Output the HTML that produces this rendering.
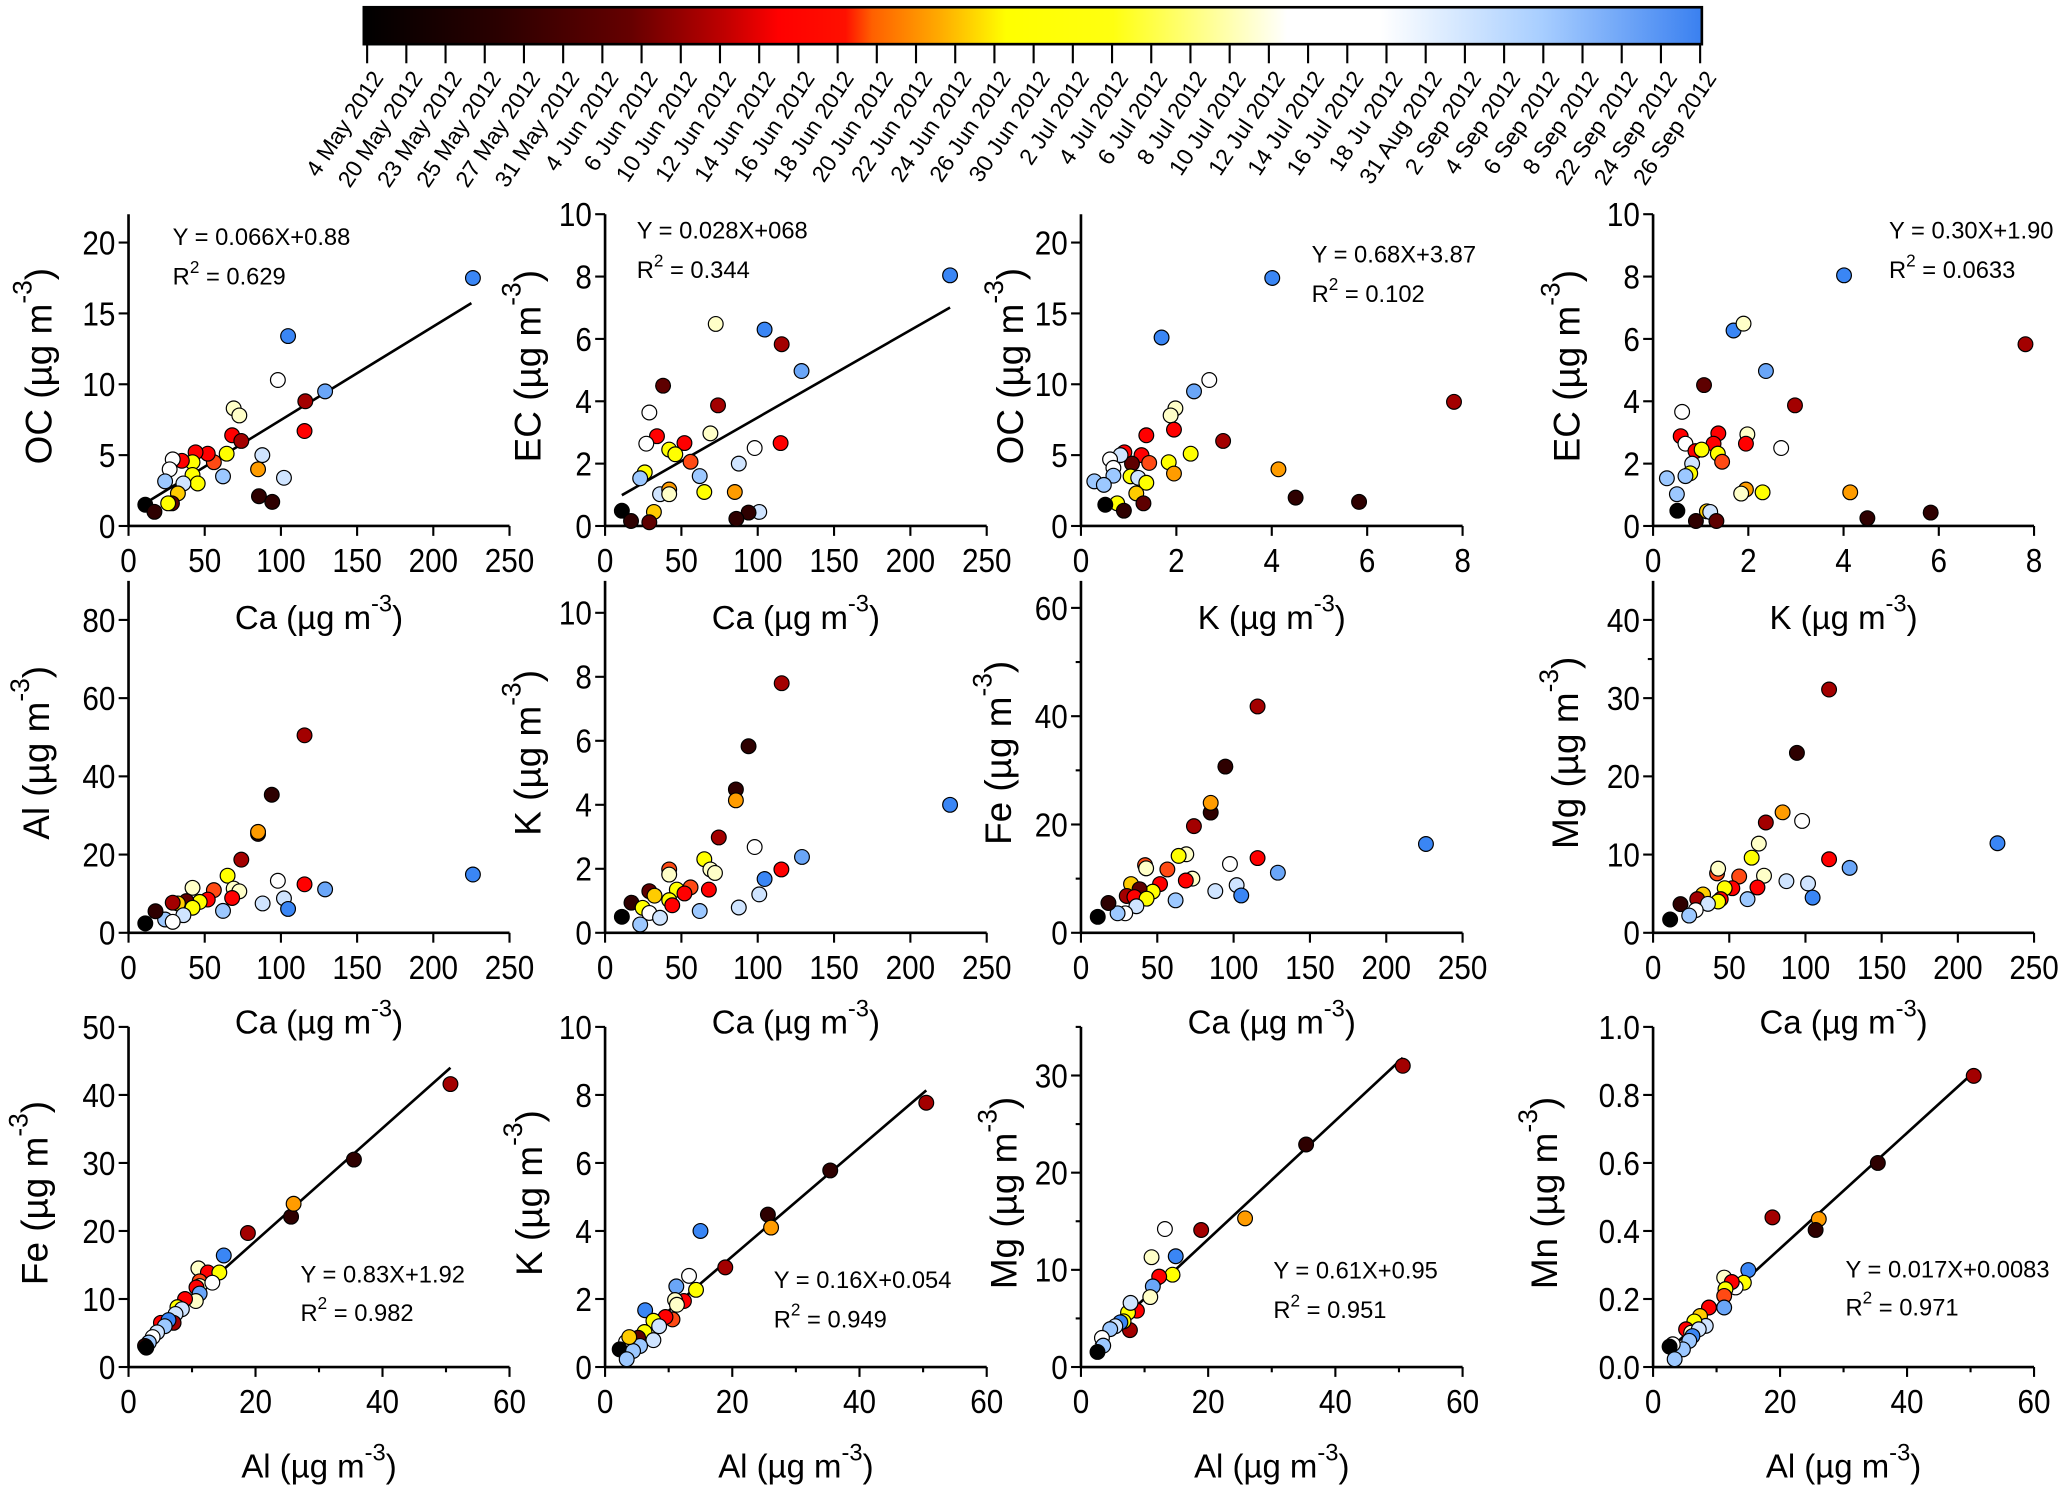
<!DOCTYPE html>
<html><head><meta charset="utf-8"><title>Scatter matrix</title>
<style>
html,body{margin:0;padding:0;background:#fff;}
svg{display:block;}
text{font-family:"Liberation Sans",Arial,sans-serif;fill:#000;}
</style></head>
<body>
<svg id="fig" xmlns="http://www.w3.org/2000/svg" width="2067" height="1485" viewBox="0 0 1568 1126.5" preserveAspectRatio="none">
<defs>
<linearGradient id="cbgrad" x1="0" x2="1" y1="0" y2="0">
<stop offset="0" stop-color="#000000"/>
<stop offset="0.1" stop-color="#2a0000"/>
<stop offset="0.2" stop-color="#660000"/>
<stop offset="0.27" stop-color="#c00000"/>
<stop offset="0.31" stop-color="#ff0000"/>
<stop offset="0.36" stop-color="#ff1000"/>
<stop offset="0.38" stop-color="#ff6000"/>
<stop offset="0.43" stop-color="#ffaa00"/>
<stop offset="0.48" stop-color="#ffff00"/>
<stop offset="0.56" stop-color="#ffff10"/>
<stop offset="0.69" stop-color="#ffffff"/>
<stop offset="0.76" stop-color="#ffffff"/>
<stop offset="0.8" stop-color="#e2efff"/>
<stop offset="0.88" stop-color="#a8ceff"/>
<stop offset="1" stop-color="#3a80f0"/>
</linearGradient>
</defs>
<rect x="276" y="5.5" width="1015" height="28" fill="url(#cbgrad)" stroke="#000" stroke-width="2"/>
<g id="cbticks"></g>
<g id="panels"></g>
</svg>
<script>
// ---- colorbar dates ----
const dateLabels = ["4 May 2012","20 May 2012","23 May 2012","25 May 2012","27 May 2012","31 May 2012","4 Jun 2012","6 Jun 2012","10 Jun 2012","12 Jun 2012","14 Jun 2012","16 Jun 2012","18 Jun 2012","20 Jun 2012","22 Jun 2012","24 Jun 2012","26 Jun 2012","30 Jun 2012","2 Jul 2012","4 Jul 2012","6 Jul 2012","8 Jul 2012","10 Jul 2012","12 Jul 2012","14 Jul 2012","16 Jul 2012","18 Ju 2012","31 Aug 2012","2 Sep 2012","4 Sep 2012","6 Sep 2012","8 Sep 2012","22 Sep 2012","24 Sep 2012","26 Sep 2012"];

// ---- colour code legend ----
const colorCodes = {k:"#000000",d:"#2e0000",m:"#5e0000",R:"#a30000",r:"#ff0000",o:"#ff4a14",O:"#ff9c00",g:"#ffcc00",y:"#ffff00",l:"#ffffc8",w:"#ffffff",b:"#cfe4ff",s:"#9cc8ff",M:"#6aa6f8",B:"#3a86f5"};

// ---- panel data ----
const p1x=[226,104.7,129,98,116,115.5,69,72.7,68,74,64.4,87.8,56,52,44,42,35,29,27,42,45.4,36,24,62,102,85,32.4,28.5,26,85.6,94.3,11,17];
const p1y=[17.5,13.4,9.5,10.3,8.8,6.7,8.3,7.8,6.4,6.0,5.1,5.0,4.5,5.1,5.2,4.5,4.6,4.7,4.0,3.6,3.0,3.0,3.15,3.5,3.4,4.0,2.3,1.6,1.6,2.1,1.7,1.5,1.0];
const p1c=["B","B","M","w","R","r","l","l","r","R","y","b","o","r","r","y","r","w","w","y","y","b","s","s","b","O","g","m","y","d","d","k","d"];

const p2x=[226,104.5,115.7,128.7,72.5,38,74,29,69,34,27,52,115,98,42,46,56,87.6,26,23,62,36,42,42,65,85,32,101,11,94,86,17,29];
const p2y=[8.04,6.3,5.83,4.97,6.48,4.5,3.87,3.64,2.97,2.88,2.64,2.66,2.66,2.5,2.45,2.3,2.06,2.0,1.72,1.53,1.6,1.02,1.17,1.02,1.09,1.09,0.45,0.45,0.49,0.43,0.23,0.16,0.12];
const p2c=["B","B","R","M","l","m","R","w","l","r","w","r","r","w","y","y","o","b","y","s","s","b","O","l","y","O","g","b","k","d","d","d","m"];

const p3x=[4.01,1.69,2.69,2.37,1.98,1.88,7.82,1.95,1.37,2.98,2.3,1.84,1.95,1.27,0.91,1.43,1.07,4.14,0.83,0.61,0.68,0.68,1.04,1.2,1.37,0.28,0.48,1.16,0.76,1.31,0.51,0.9,4.5,5.83];
const p3y=[17.5,13.3,10.3,9.5,8.3,7.8,8.76,6.8,6.4,6.0,5.1,4.5,3.7,5.0,5.2,4.45,4.4,4.0,5.0,4.7,4.1,3.55,3.5,3.4,3.05,3.15,2.9,2.3,1.6,1.6,1.5,1.08,2.0,1.7];
const p3c=["B","B","w","M","l","l","R","r","r","R","y","y","O","r","r","o","m","O","b","w","w","s","y","b","y","s","s","g","y","m","k","d","d","d"];

const p4x=[4.01,1.69,1.9,7.82,2.37,1.07,2.98,0.61,1.37,0.58,1.98,1.27,1.95,0.68,2.69,0.89,1.02,1.36,1.45,0.82,0.78,0.68,0.29,0.5,1.95,1.85,2.3,4.14,1.13,1.2,0.51,5.83,4.5,0.9,1.33];
const p4y=[8.04,6.27,6.49,5.83,4.97,4.52,3.87,3.66,2.97,2.88,2.94,2.64,2.64,2.64,2.5,2.4,2.45,2.32,2.06,2.0,1.69,1.6,1.53,1.02,1.17,1.04,1.08,1.08,0.47,0.45,0.49,0.43,0.25,0.16,0.16];
const p4c=["B","B","l","R","M","m","R","w","r","r","l","r","r","w","w","r","y","y","o","b","y","s","s","s","O","l","y","O","g","b","k","d","d","d","m"];

const p5x=[226,115.5,94,85,85,74,65,42,56,69,72.7,98,115.5,129,102,88,104.7,68,52,46.7,38,32.4,29,42,62,36,24,29,17.7,11];
const p5y=[14.9,50.5,35.3,25.3,25.8,18.7,14.6,11.5,10.9,11.3,10.6,13.3,12.4,11.1,8.8,7.5,6.1,8.9,8.5,7.9,8.1,7.5,7.7,6.4,5.6,4.5,3.4,2.8,5.5,2.4];
const p5c=["B","R","d","d","O","R","y","l","o","l","l","w","r","M","b","b","B","r","r","y","m","g","R","y","s","b","s","w","d","k"];

const p6x=[226,115.7,94,85.7,85.7,74.5,98,129,65,115.5,42,42,69,72,104.5,56,68,47,29,52,32.4,42,44,101,17.3,87.6,62,24.6,29,36,11,23];
const p6y=[4.0,7.8,5.83,4.48,4.14,2.98,2.68,2.37,2.3,1.98,1.98,1.82,1.98,1.87,1.68,1.42,1.35,1.35,1.3,1.23,1.16,1.02,0.86,1.2,0.94,0.79,0.68,0.78,0.62,0.47,0.5,0.26];
const p6c=["B","R","d","d","O","R","w","M","y","r","o","l","l","l","B","o","r","y","m","r","g","y","r","b","d","b","s","y","w","b","k","s"];

const p7x=[226,115.7,94.6,85,85,74,69,64,42,42.7,56.6,97.6,115.7,129,73,68.7,51.8,32.8,47,38.4,102,88,105,30,35,43,62,36.3,29,24,18,11];
const p7y=[16.4,41.8,30.7,22.2,24.0,19.7,14.5,14.2,12.5,11.9,11.7,12.7,13.8,11.1,10.0,9.65,9.0,9.0,7.6,8.05,8.8,7.7,6.9,6.8,6.6,6.3,6.0,4.9,3.6,3.6,5.5,2.95];
const p7c=["B","R","d","d","O","R","l","y","o","l","o","w","r","M","l","r","r","g","y","m","b","b","B","R","r","y","s","b","w","s","d","k"];

const p8x=[226,115.5,94.4,85,74,97.8,69.4,64.7,115.5,129,42,42.7,56.5,72.8,87.5,101.7,68.5,52,47,32.8,29,44.4,42.7,62,104.7,36,18,28,23.7,11.2];
const p8y=[11.45,31.1,23.0,15.4,14.1,14.3,11.4,9.6,9.4,8.3,7.6,8.2,7.2,7.3,6.6,6.3,5.8,5.7,5.7,4.9,4.3,4.3,4.0,4.3,4.5,3.7,3.66,2.9,2.2,1.7];
const p8c=["B","R","d","O","R","w","l","y","r","M","o","l","o","l","b","b","r","r","y","g","R","r","y","s","B","b","d","w","s","k"];

const p9x=[50.7,35.5,25.6,26,18.8,15,11,12.5,14.3,11.2,11.2,13.2,10.7,11.2,10.6,8.9,7.7,8.4,7.4,7.1,5.1,6.3,5.7,4.5,3.8,3.2,2.6,2.8];
const p9y=[41.6,30.5,22.1,24.0,19.7,16.4,14.5,13.9,13.9,12.6,11.9,12.4,11.7,10.8,9.7,10.0,8.8,8.5,7.8,6.5,6.5,6.9,6.0,5.1,4.4,3.6,3.1,2.85];
const p9c=["R","d","d","O","R","B","l","r","y","o","l","w","r","M","l","r","y","b","b","R","r","B","s","b","w","s","d","k"];

const p10x=[50.5,35.4,25.6,26.1,15,18.9,13.2,11.2,14.3,12.4,11,11.3,6.3,10.6,9.5,7.6,8.5,6.2,5.2,7.6,5.5,3.3,2.3,4.4,3.4,3.8];
const p10y=[7.77,5.78,4.48,4.1,4.0,2.93,2.68,2.37,2.27,1.94,1.97,1.83,1.67,1.4,1.47,1.36,1.2,1.03,0.86,0.79,0.62,0.74,0.52,0.47,0.23,0.88];
const p10c=["R","d","d","O","B","R","w","M","y","r","l","l","B","o","r","y","b","y","m","b","s","w","k","s","s","g"];

const p11x=[50.6,35.4,25.8,18.9,13.2,14.9,11.1,14.4,12.3,11.3,10.9,8.8,7.4,7.8,7.7,6.7,6.2,5.4,4.6,3.3,3.5,2.6];
const p11y=[31.0,22.9,15.3,14.1,14.2,11.4,11.3,9.5,9.3,8.3,7.2,5.8,5.6,6.6,3.8,4.7,4.6,4.2,3.9,3.0,2.2,1.55];
const p11c=["R","d","O","R","w","B","l","y","r","M","l","r","y","b","R","y","B","b","s","w","s","k"];

const p12x=[50.5,35.4,18.8,26.1,25.6,15,14.3,11.2,13,12.4,11.4,11.2,11.2,8.8,7.4,8.3,6.5,5.2,6,7.2,6.2,5.7,4.7,3.1,2.6,3.4];
const p12y=[0.856,0.6,0.44,0.435,0.403,0.285,0.248,0.263,0.234,0.25,0.229,0.209,0.175,0.175,0.15,0.121,0.134,0.111,0.101,0.111,0.091,0.077,0.052,0.067,0.06,0.023];
const p12c=["R","d","R","O","d","B","y","l","w","r","y","o","M","r","g","b","y","r","l","b","B","s","s","w","k","s"];

// regression coefficients [slope, intercept, xStart, xEnd]
const fitP1=[0.066,0.88,14,225];
const fitP2=[0.028,0.68,11,226];
const fitP9=[0.83,1.92,2.1,50.7];
const fitP10=[0.16,0.054,2.3,50.5];
const fitP11=[0.61,0.95,2.3,50.6];
const fitP12=[0.017,0.0083,2.3,50.5];

const NS="http://www.w3.org/2000/svg";
const svg=document.getElementById("fig");
function mk(tag,attrs,parent){const e=document.createElementNS(NS,tag);for(const k in attrs)e.setAttribute(k,attrs[k]);(parent||svg).appendChild(e);return e;}

// colorbar ticks + labels
const cbG=document.getElementById("cbticks");
const cbX0=278.5, cbX1=1289.7;
dateLabels.forEach((lab,i)=>{
  const x=cbX0+(cbX1-cbX0)*i/(dateLabels.length-1);
  const t=mk("line",{x1:x,y1:33.5,x2:x,y2:48,stroke:"#000","stroke-width":1.6},cbG);
  
  
  const tx=mk("text",{x:0,y:0,"font-size":17.5,"text-anchor":"end",transform:`translate(${x+13},${59}) rotate(-56.5)`},cbG);
  
  
  tx.textContent=lab;
});

const cols=[[97.5,386.5],[459,748.5],[820,1109.5],[1254,1543]];
const rows=[[399,162.5],[707.6,440.6],[1037,779]];

const panels=[
 {name:"oc-vs-ca",r:0,c:0,xs:p1x,ys:p1y,cs:p1c,xmax:250,xt:[0,50,100,150,200,250],xm:[],ymax:22,yt:[0,5,10,15,20],ym:[],yl:"OC",xl:"Ca",fit:fitP1,eq:["Y = 0.066X+0.88","0.629"],ex:131,ey:186,ey2:216,ytx:29},
 {name:"ec-vs-ca",r:0,c:1,xs:p2x,ys:p2y,cs:p2c,xmax:250,xt:[0,50,100,150,200,250],xm:[],ymax:10,yt:[0,2,4,6,8,10],ym:[],yl:"EC",xl:"Ca",fit:fitP2,eq:["Y = 0.028X+068","0.344"],ex:483,ey:181,ey2:211,ytx:400},
 {name:"oc-vs-k",r:0,c:2,xs:p3x,ys:p3y,cs:p3c,xmax:8,xt:[0,2,4,6,8],xm:[],ymax:22,yt:[0,5,10,15,20],ym:[],yl:"OC",xl:"K",fit:null,eq:["Y = 0.68X+3.87","0.102"],ex:995,ey:199,ey2:229,ytx:766},
 {name:"ec-vs-k",r:0,c:3,xs:p4x,ys:p4y,cs:p4c,xmax:8,xt:[0,2,4,6,8],xm:[],ymax:10,yt:[0,2,4,6,8,10],ym:[],yl:"EC",xl:"K",fit:null,eq:["Y = 0.30X+1.90","0.0633"],ex:1433,ey:181,ey2:211,ytx:1188},
 {name:"al-vs-ca",r:1,c:0,xs:p5x,ys:p5y,cs:p5c,xmax:250,xt:[0,50,100,150,200,250],xm:[],ymax:90,yt:[0,20,40,60,80],ym:[],yl:"Al",xl:"Ca",fit:null,eq:null,ytx:27},
 {name:"k-vs-ca",r:1,c:1,xs:p6x,ys:p6y,cs:p6c,xmax:250,xt:[0,50,100,150,200,250],xm:[],ymax:11,yt:[0,2,4,6,8,10],ym:[],yl:"K",xl:"Ca",fit:null,eq:null,ytx:400},
 {name:"fe-vs-ca",r:1,c:2,xs:p7x,ys:p7y,cs:p7c,xmax:250,xt:[0,50,100,150,200,250],xm:[],ymax:65,yt:[0,20,40,60],ym:[10,30,50],yl:"Fe",xl:"Ca",fit:null,eq:null,ytx:757},
 {name:"mg-vs-ca",r:1,c:3,xs:p8x,ys:p8y,cs:p8c,xmax:250,xt:[0,50,100,150,200,250],xm:[],ymax:45,yt:[0,10,20,30,40],ym:[35],yl:"Mg",xl:"Ca",fit:null,eq:null,ytx:1187},
 {name:"fe-vs-al",r:2,c:0,xs:p9x,ys:p9y,cs:p9c,xmax:60,xt:[0,20,40,60],xm:[10,30,50],ymax:50,yt:[0,10,20,30,40,50],ym:[],yl:"Fe",xl:"Al",fit:fitP9,eq:["Y = 0.83X+1.92","0.982"],ex:228,ey:973,ey2:1002,ytx:26},
 {name:"k-vs-al",r:2,c:1,xs:p10x,ys:p10y,cs:p10c,xmax:60,xt:[0,20,40,60],xm:[10,30,50],ymax:10,yt:[0,2,4,6,8,10],ym:[],yl:"K",xl:"Al",fit:fitP10,eq:["Y = 0.16X+0.054","0.949"],ex:587,ey:977,ey2:1007,ytx:401},
 {name:"mg-vs-al",r:2,c:2,xs:p11x,ys:p11y,cs:p11c,xmax:60,xt:[0,20,40,60],xm:[10,30,50],ymax:35,yt:[0,10,20,30],ym:[5,15,25,35],yl:"Mg",xl:"Al",fit:fitP11,eq:["Y = 0.61X+0.95","0.951"],ex:966,ey:970,ey2:1000,ytx:761},
 {name:"mn-vs-al",r:2,c:3,xs:p12x,ys:p12y,cs:p12c,xmax:60,xt:[0,20,40,60],xm:[10,30,50],ymax:1.0,yt:[0,0.2,0.4,0.6,0.8,1.0],ym:[],yl:"Mn",xl:"Al",fit:fitP12,eq:["Y = 0.017X+0.0083","0.971"],ex:1400,ey:969,ey2:998,ytx:1171,dec:1}
];
const xtitleY=[477,784,1121];

const root=document.getElementById("panels");
panels.forEach(p=>{
  const [X0,X1]=cols[p.c]; const [Y0,YT]=rows[p.r];
  const sx=v=>X0+(X1-X0)*v/p.xmax;
  const sy=v=>Y0-(Y0-YT)*v/p.ymax;
  const g=mk("g",{},root);
  
  
  const xa=mk("line",{x1:X0,y1:Y0,x2:X1,y2:Y0,stroke:"#000","stroke-width":2},g);
  
  
  const ya=mk("line",{x1:X0,y1:Y0,x2:X0,y2:YT,stroke:"#000","stroke-width":2},g);
  
  
  p.xt.forEach(v=>{
    const l=mk("line",{x1:sx(v),y1:Y0,x2:sx(v),y2:Y0+7.5,stroke:"#000","stroke-width":1.6},g);
    
    
    const t=mk("text",{x:0,y:0,"font-size":25,"text-anchor":"middle",transform:`translate(${sx(v)},${Y0+35}) scale(0.9,1)`},g);
    
    
    t.textContent=String(v);
  });
  p.xm.forEach(v=>{
    const l=mk("line",{x1:sx(v),y1:Y0,x2:sx(v),y2:Y0+4,stroke:"#000","stroke-width":1.6},g);
    
    
  });
  p.yt.forEach(v=>{
    const l=mk("line",{x1:X0-7.5,y1:sy(v),x2:X0,y2:sy(v),stroke:"#000","stroke-width":1.6},g);
    
    
    const t=mk("text",{x:0,y:0,"font-size":25,"text-anchor":"end",transform:`translate(${X0-10},${sy(v)+9}) scale(0.9,1)`},g);
    
    
    t.textContent=p.dec?v.toFixed(1):String(v);
  });
  p.ym.forEach(v=>{
    const l=mk("line",{x1:X0-4,y1:sy(v),x2:X0,y2:sy(v),stroke:"#000","stroke-width":1.6},g);
    
    
  });
  const xt=mk("text",{x:(X0+X1)/2,y:xtitleY[p.r],"font-size":25,"text-anchor":"middle"},g);
  
  
  xt.innerHTML=p.xl+' (µg m<tspan font-size="18" dy="-13">-3</tspan><tspan dy="13">)</tspan>';
  const cy=(Y0+YT)/2-3;
  const yt=mk("text",{x:0,y:0,"font-size":28,"text-anchor":"middle",transform:`translate(${p.ytx+10},${cy}) rotate(-90)`},g);
  
  
  yt.innerHTML=p.yl+' (µg m<tspan font-size="20" dy="-15">-3</tspan><tspan dy="15">)</tspan>';
  if(p.fit){
    const [a,b,xa0,xa1]=p.fit;
    const fl=mk("line",{x1:sx(xa0),y1:sy(a*xa0+b),x2:sx(xa1),y2:sy(a*xa1+b),stroke:"#000","stroke-width":2},g);
    
    
  }
  p.xs.forEach((xv,i)=>{
    const c=mk("circle",{cx:sx(xv),cy:sy(p.ys[i]),r:5.6,fill:colorCodes[p.cs[i]]||"#888",stroke:"#000","stroke-width":0.9},g);
    
    
  });
  if(p.eq){
    const e1=mk("text",{x:p.ex,y:p.ey,"font-size":18},g);
    
    
    e1.textContent=p.eq[0];
    const e2=mk("text",{x:p.ex,y:p.ey2,"font-size":18},g);
    
    
    e2.innerHTML='R<tspan font-size="13" dy="-9">2</tspan><tspan dy="9"> = '+p.eq[1]+'</tspan>';
  }
});
</script>
</body></html>
